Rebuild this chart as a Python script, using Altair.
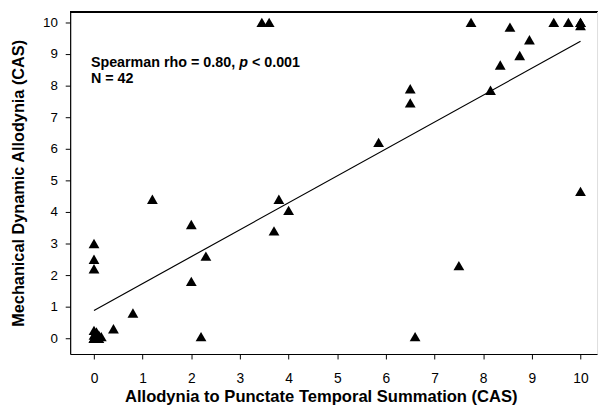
import altair as alt
import pandas as pd

# Data
x_vals = [0, 0, 0, 0.05, 0.1, 0.15, 0, 0.05, 0.1, 0.0,
          0, 0, 0,
          0.4, 0.8, 1.2, 2.0, 2.0, 2.2, 2.3,
          3.45, 3.6, 3.7, 3.8, 4.0,
          5.85, 6.5, 6.5, 6.6, 7.5,
          7.75, 8.15, 8.35, 8.55, 8.75, 8.95,
          9.45, 9.75, 10, 10, 10, 10]
y_vals = [0, 0, 0, 0.05, 0.0, 0.05, 0.1, 0.2, 0.1, 0.25,
          3.0, 2.5, 2.2,
          0.3, 0.8, 4.4, 3.6, 1.8, 0.05, 2.6,
          10, 10, 3.4, 4.4, 4.05,
          6.2, 7.9, 7.45, 0.05, 2.3,
          10, 7.85, 8.65, 9.85, 8.95, 9.45,
          10, 10, 10, 10, 9.9, 4.65]

fit_x = [0, 10]
fit_y = [0.88, 9.4]

tick_values = list(range(11))
x_title = "Allodynia to Punctate Temporal Summation (CAS)"
y_title = "Mechanical Dynamic Allodynia (CAS)"
ann_1a = "Spearman rho = 0.80,"
ann_1b = "p"
ann_1c = "< 0.001"
ann_2 = "N = 42"

pts = pd.DataFrame({"x": x_vals, "y": y_vals})
fit = pd.DataFrame({"x": fit_x, "y": fit_y})

FONT = "Liberation Sans"
W, H = 534, 347

xscale = alt.Scale(domain=[-0.49, 10.34], nice=False, zero=False)
yscale = alt.Scale(domain=[-0.5, 10.34], nice=False, zero=False)

xaxis = alt.Axis(values=tick_values, title=x_title, grid=False,
                 labelFont=FONT, labelFontSize=14, labelColor="black",
                 labelPadding=13, tickSize=5, tickColor="black",
                 labelOverlap=False, tickCount=11,
                 domainColor="black", domainWidth=1.2,
                 titleFont=FONT, titleFontSize=16.8, titleFontWeight="bold",
                 titleColor="black", titlePadding=3, titleX=254)
yaxis = alt.Axis(values=tick_values, title=y_title, grid=False,
                 labelFont=FONT, labelFontSize=13.5, labelColor="black",
                 labelPadding=8, tickSize=5, tickColor="black",
                 labelOverlap=False, tickCount=11,
                 domainColor="black", domainWidth=1.2,
                 titleFont=FONT, titleFontSize=16.5, titleFontWeight="bold",
                 titleColor="black", titlePadding=16)

points = alt.Chart(pts).mark_point(shape="triangle-up", filled=True,
                                   color="black", opacity=1, size=120).encode(
    x=alt.X("x:Q", scale=xscale, axis=xaxis),
    y=alt.Y("y:Q", scale=yscale, axis=yaxis),
)

line = alt.Chart(fit).mark_line(color="black", strokeWidth=1.2).encode(
    x=alt.X("x:Q", scale=xscale, axis=xaxis),
    y=alt.Y("y:Q", scale=yscale, axis=yaxis),
)

top_rule = alt.Chart(pts).mark_rule(color="black", strokeWidth=1.2).encode(
    x=alt.value(0), x2=alt.value(W), y=alt.value(0)
)

FS = 14.5
tx = 21
t1a = alt.Chart(pd.DataFrame({"t": [ann_1a]})).mark_text(
    font=FONT, fontSize=FS, fontWeight="bold", align="left", baseline="middle",
    color="black").encode(text="t:N", x=alt.value(tx), y=alt.value(52))
t1b = alt.Chart(pd.DataFrame({"t": [ann_1b]})).mark_text(
    font=FONT, fontSize=FS, fontWeight="bold", fontStyle="italic", align="left",
    baseline="middle", color="black").encode(
    text="t:N", x=alt.value(tx + 10.366 * FS), y=alt.value(52))
t1c = alt.Chart(pd.DataFrame({"t": [ann_1c]})).mark_text(
    font=FONT, fontSize=FS, fontWeight="bold", align="left", baseline="middle",
    color="black").encode(
    text="t:N", x=alt.value(tx + 11.255 * FS), y=alt.value(52))
t2 = alt.Chart(pd.DataFrame({"t": [ann_2]})).mark_text(
    font=FONT, fontSize=FS, fontWeight="bold", align="left", baseline="middle",
    color="black").encode(text="t:N", x=alt.value(tx), y=alt.value(68))

chart = alt.layer(line, points, top_rule, t1a, t1b, t1c, t2).properties(
    width=W, height=H,
    autosize=alt.AutoSizeParams(type="none"),
    padding={"left": 63, "top": 1, "right": 4, "bottom": 52},
).configure_view(stroke=None).configure(background="white")

chart.save("out.html", embed_options={"renderer": "svg", "actions": False})
